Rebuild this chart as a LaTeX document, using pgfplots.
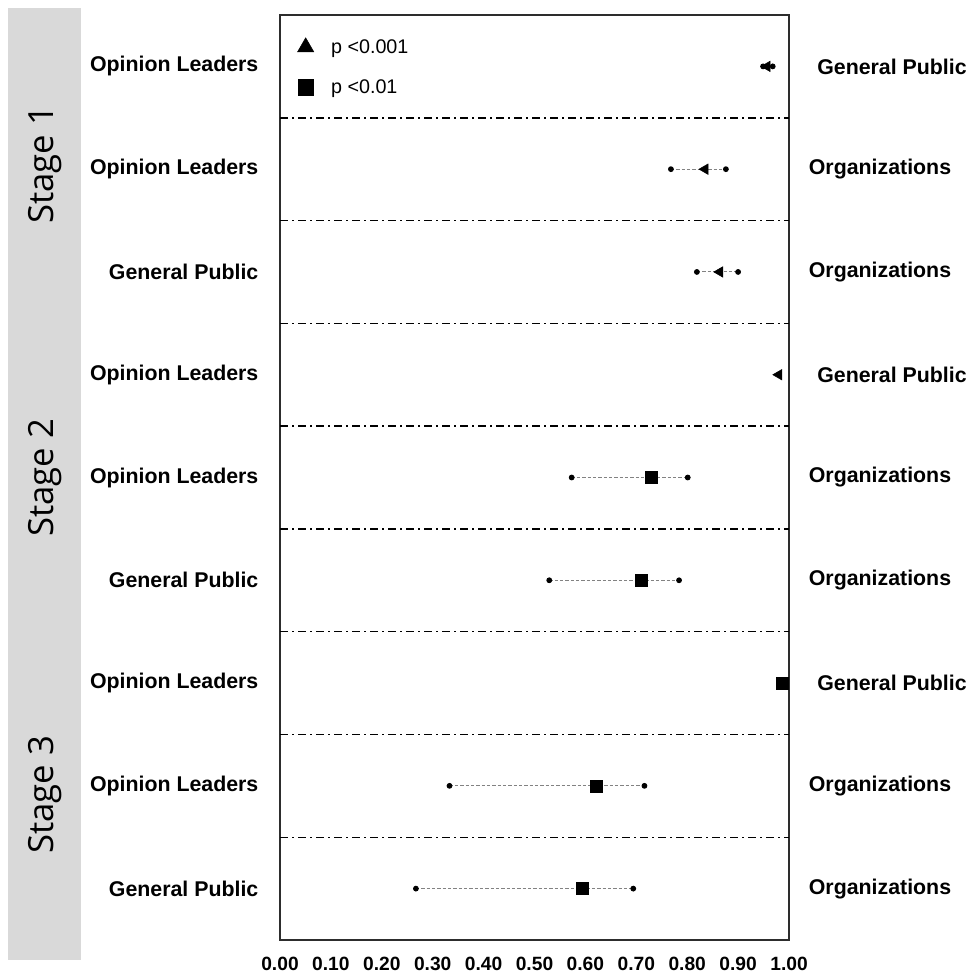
\documentclass[border=0pt]{standalone}
\usepackage{fontspec}
\setmainfont{Liberation Sans}
\newfontfamily\stagefont{Open Sans}
\usepackage{pgfplots}
\pgfplotsset{compat=1.18}
\definecolor{stripgray}{RGB}{217,217,217}
\definecolor{framegray}{RGB}{45,45,45}
\definecolor{cigray}{RGB}{130,130,130}
\begin{document}
\begin{tikzpicture}
\useasboundingbox (0,0) rectangle (729pt,735pt);
\fill[stripgray] (6pt,15pt) rectangle (60.75pt,729pt);
\node[rotate=90, font=\stagefont\fontsize{26}{30}\selectfont] at (33.5pt,611.25pt) {Stage 1};
\node[rotate=90, font=\stagefont\fontsize{26}{30}\selectfont] at (33.5pt,376.5pt) {Stage 2};
\node[rotate=90, font=\stagefont\fontsize{26}{30}\selectfont] at (33.5pt,138.75pt) {Stage 3};
\begin{axis}[
  at={(210pt,30pt)}, anchor=south west,
  scale only axis, width=381.75pt, height=693.75pt,
  xmin=0, xmax=1, ymin=0.5, ymax=9.5, y dir=reverse,
  clip=false,
  axis line style={framegray, line width=1.5pt},
  major tick length=0pt,
  xtick={0,0.1,0.2,0.3,0.4,0.5,0.6,0.7,0.8,0.9,1},
  xticklabel style={font=\bfseries\fontsize{14.4}{16}\selectfont, yshift=-9pt,
    /pgf/number format/.cd, fixed, fixed zerofill, precision=2, assume math mode=true},
  ytick={1,2,3,4,5,6,7,8,9},
  yticklabels={Opinion Leaders, Opinion Leaders, General Public, Opinion Leaders, Opinion Leaders, General Public, Opinion Leaders, Opinion Leaders, General Public},
  yticklabel style={font=\bfseries\fontsize{16}{18}\selectfont, xshift=-12.7pt},
  extra y ticks={1.5,2.5,3.5,4.5,5.5,6.5,7.5,8.5},
  extra y tick labels={},
  extra y tick style={grid=major, major grid style={black, line width=1.1pt, dash pattern=on 6pt off 3pt on 1.5pt off 3pt}},
  legend style={at={(0,1)}, anchor=north west, xshift=10pt, yshift=-14pt, draw=none, fill=none,
    font=\fontsize{14.8}{16}\selectfont, row sep=14.3pt, column sep=11pt},
  legend cell align=left,
  legend image code/.code={\draw[#1] plot coordinates {(0pt,0pt)};},
]
% confidence intervals
\addplot[forget plot, cigray, line width=0.7pt, dash pattern=on 2.5pt off 1.5pt, unbounded coords=jump,
  mark=*, mark options={solid, draw=black, fill=black, mark size=1.8pt}] coordinates {
  (0.949,1) (0.968,1) (nan,nan)
  (0.768,2) (0.876,2) (nan,nan)
  (0.819,3) (0.900,3) (nan,nan)
  (0.573,5) (0.801,5) (nan,nan)
  (0.529,6) (0.784,6) (nan,nan)
  (0.333,8) (0.716,8) (nan,nan)
  (0.267,9) (0.694,9)
};
% p < 0.001 estimates
\addplot[forget plot, only marks, mark=triangle*, mark size=4.5pt, black, mark options={rotate=90}] coordinates {
  (0.957,1) (0.835,2) (0.864,3) (0.980,4)
};
% p < 0.01 estimates
\addplot[forget plot, only marks, mark=square*, mark size=4.5pt, black] coordinates {
  (0.729,5) (0.709,6) (0.986,7) (0.621,8) (0.593,9)
};
\addlegendimage{only marks, mark=triangle*, mark size=7pt, black}
\addlegendentry{p <0.001}
\addlegendimage{only marks, mark=square*, mark size=5.8pt, black}
\addlegendentry{p <0.01}
% right-hand labels
\node[font=\bfseries\fontsize{16}{18}\selectfont] at ([xshift=77.25pt]axis cs:1,1) {General Public};
\node[font=\bfseries\fontsize{16}{18}\selectfont] at ([xshift=68.25pt]axis cs:1,2) {Organizations};
\node[font=\bfseries\fontsize{16}{18}\selectfont] at ([xshift=68.25pt]axis cs:1,3) {Organizations};
\node[font=\bfseries\fontsize{16}{18}\selectfont] at ([xshift=77.25pt]axis cs:1,4) {General Public};
\node[font=\bfseries\fontsize{16}{18}\selectfont] at ([xshift=68.25pt]axis cs:1,5) {Organizations};
\node[font=\bfseries\fontsize{16}{18}\selectfont] at ([xshift=68.25pt]axis cs:1,6) {Organizations};
\node[font=\bfseries\fontsize{16}{18}\selectfont] at ([xshift=77.25pt]axis cs:1,7) {General Public};
\node[font=\bfseries\fontsize{16}{18}\selectfont] at ([xshift=68.25pt]axis cs:1,8) {Organizations};
\node[font=\bfseries\fontsize{16}{18}\selectfont] at ([xshift=68.25pt]axis cs:1,9) {Organizations};
\end{axis}
\end{tikzpicture}
\end{document}
